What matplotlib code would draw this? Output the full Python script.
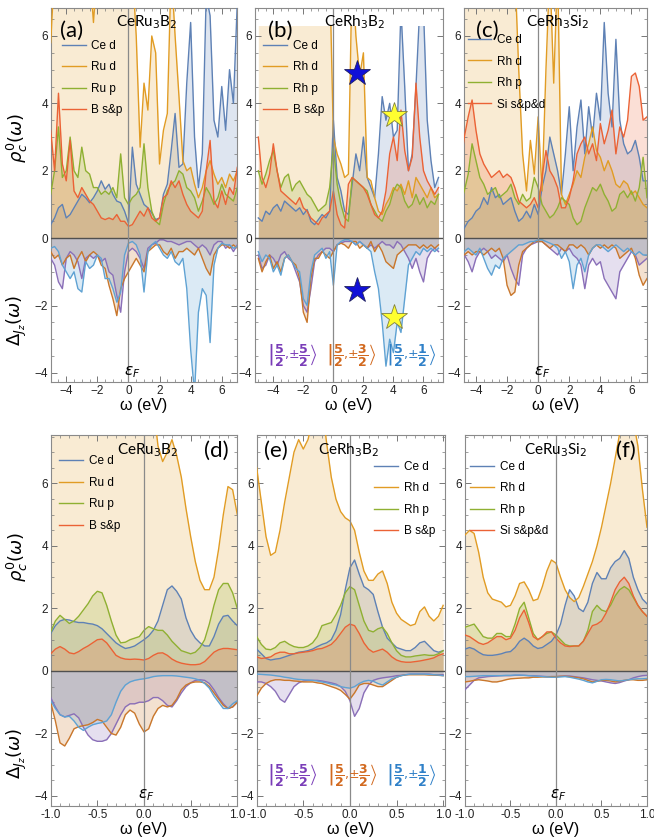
import numpy as np
import matplotlib
matplotlib.use('Agg')
import matplotlib.pyplot as plt
from matplotlib.patches import Rectangle
from matplotlib.ticker import MultipleLocator, FormatStrFormatter

plt.rcParams['font.family'] = ['Liberation Sans', 'DejaVu Sans']
plt.rcParams['mathtext.fontset'] = 'dejavusans'

# ---------------- energy grids ----------------
w_top = np.linspace(-5, 7, 49)
w_bot = np.linspace(-1, 1, 41)

# ---------------- panel (a) CeRu3B2, wide range ----------------
a_ce_d = [0.4, 0.6, 0.9, 1.0, 0.6, 0.7, 0.9, 1.1, 1.3, 1.2, 1.05, 1.2,
          1.4, 1.7, 1.45, 1.6, 1.3, 1.1, 1.05, 0.8, 0.45, 2.7, 1.6, 1.3,
          1.0, 0.9, 0.75, 0.55, 0.6, 1.3, 1.6, 2.6, 3.7, 2.1, 2.2, 4.6,
          6.4, 3.0, 1.5, 2.5, 7.2, 6.6, 3.5, 3.0, 4.5, 3.2, 5.0, 4.0, 7.0]
a_tm_d = [5.8, 8, 8, 8, 8, 8, 8, 8, 8, 8, 8, 6.4,
          8, 8, 8, 8, 8, 8, 8, 8, 8, 8, 6.0, 2.7,
          4.6, 3.8, 6.0, 5.5, 2.2, 3.2, 3.7, 8, 6.0, 4.2, 2.3, 2.0,
          2.1, 1.6, 1.2, 1.5, 2.0, 2.3, 1.9, 1.6, 1.8, 1.5, 1.9, 1.7, 2.0]
a_tm_p = [1.3, 2.0, 3.3, 1.8, 2.0, 3.0, 2.0, 1.8, 2.7, 2.0, 1.9, 1.5,
          1.5, 1.3, 1.4, 1.3, 1.5, 1.2, 2.5, 1.2, 1.0, 1.2, 1.3, 1.5,
          2.8, 1.5, 0.8, 0.5, 0.4, 1.0, 1.4, 1.6, 1.7, 2.0, 1.9, 1.5,
          1.4, 1.2, 0.8, 1.1, 1.5, 1.3, 1.0, 1.2, 1.6, 1.3, 1.2, 1.1, 1.5]
a_x = [3.2, 2.0, 4.3, 2.2, 1.7, 2.9, 1.4, 1.2, 1.5, 1.3, 1.1, 1.0,
       0.8, 0.6, 0.55, 0.6, 0.55, 0.7, 0.5, 0.5, 0.35, 0.4, 0.6, 0.8,
       0.65, 0.9, 0.6, 0.5, 0.6, 1.2, 1.3, 1.7, 1.5, 1.7, 1.3, 1.0,
       0.8, 0.7, 0.6, 0.8, 2.0, 2.9, 1.1, 0.9, 1.4, 1.0, 1.5, 1.3, 2.1]
a_j52 = [-0.6, -0.8, -1.3, -1.5, -0.6, -0.4, -0.5, -0.7, -1.2, -0.6, -0.5, -0.6,
         -0.5, -0.7, -0.6, -1.0, -1.1, -1.7, -2.2, -1.0, -0.4, -0.3, -0.4, -0.6,
         -0.9, -0.3, -0.2, -0.15, -0.05, -0.05, -0.1, -0.1, -0.15, -0.2, -0.15, -0.1,
         -0.1, -0.2, -0.3, -0.2, -0.3, -0.5, -0.2, -0.1, -0.1, -0.3, -0.2, -0.4, -0.2]
a_j32 = [-0.4, -0.6, -0.5, -0.8, -0.6, -0.5, -0.9, -0.6, -0.4, -0.7, -0.5, -0.4,
         -0.5, -0.8, -0.9, -1.4, -1.8, -2.3, -1.5, -1.2, -1.0, -0.8, -0.6, -0.8,
         -1.0, -0.4, -0.3, -0.2, -0.2, -0.4, -0.5, -0.3, -0.6, -0.4, -0.4, -0.3,
         -0.4, -0.5, -0.3, -0.6, -0.9, -1.1, -0.5, -0.3, -0.2, -0.2, -0.3, -0.2, -0.3]
a_j12 = [-0.3, -0.25, -0.4, -0.8, -1.0, -1.2, -1.0, -1.5, -1.6, -0.7, -0.9, -0.8,
         -0.5, -0.6, -1.2, -1.2, -1.5, -1.9, -1.6, -0.5, -0.15, -0.1, -0.2, -0.5,
         -1.6, -0.4, -0.2, -0.1, -0.3, -0.5, -0.6, -0.4, -0.7, -0.8, -0.6, -1.5,
         -3.3, -4.6, -2.2, -1.5, -1.7, -3.1, -0.8, -0.3, -0.15, -0.2, -0.2, -0.3, -0.25]

# ---------------- panel (b) CeRh3B2, wide range ----------------
b_ce_d = [0.6, 0.5, 0.8, 0.7, 0.9, 1.0, 0.8, 1.1, 1.0, 0.9, 0.8, 0.9,
          0.7, 0.85, 0.5, 0.4, 0.55, 0.7, 0.6, 0.8, 3.5, 1.8, 1.4, 0.8,
          0.7, 1.6, 2.5, 2.0, 3.0, 1.8, 1.5, 1.2, 2.5, 4.2, 3.5, 4.0,
          3.0, 3.2, 6.8, 4.5, 2.0, 2.5, 4.5, 6.8, 6.8, 3.5, 2.3, 1.5, 1.8]
b_tm_d = [8, 8, 8, 8, 8, 8, 8, 8, 8, 8, 8, 8,
          8, 8, 8, 8, 8, 8, 8, 8, 3.0, 2.5, 2.2, 1.8,
          1.9, 8, 6.0, 4.8, 5.5, 1.8, 1.7, 1.2, 0.8, 0.7, 1.0, 1.2,
          1.5, 1.4, 1.6, 1.3, 1.7, 1.2, 1.8, 1.6, 1.4, 1.2, 1.5, 1.2, 1.3]
b_tm_p = [2.0, 1.6, 1.9, 2.3, 2.6, 2.0, 1.5, 1.8, 1.9, 1.4, 1.6, 1.7,
          1.5, 1.3, 1.2, 1.0, 0.8, 0.9, 1.0, 1.5, 2.7, 1.6, 1.0, 0.6,
          0.5, 1.8, 1.7, 1.6, 1.5, 1.4, 1.0, 0.8, 0.6, 0.5, 0.8, 1.0,
          1.4, 1.6, 1.5, 1.1, 0.9, 1.0, 1.3, 1.0, 1.2, 0.9, 1.1, 1.0, 1.3]
b_x = [3.0, 1.8, 1.5, 1.9, 2.8, 2.0, 1.4, 1.3, 1.2, 1.1, 1.0, 1.2,
       0.9, 0.8, 0.6, 0.5, 0.4, 0.6, 0.7, 0.8, 1.4, 0.7, 0.4, 0.3,
       1.6, 1.8, 1.7, 1.6, 1.5, 1.3, 1.0, 0.7, 0.6, 0.8, 1.4, 2.5,
       3.0, 2.3, 3.8, 2.6, 2.0, 2.4, 4.6, 3.0, 2.0, 1.7, 1.5, 1.3, 1.5]
b_j52 = [-0.5, -0.9, -0.8, -0.5, -0.6, -0.8, -0.5, -0.4, -0.6, -0.7, -1.0, -1.3,
         -2.0, -2.2, -1.5, -0.7, -0.5, -0.4, -0.3, -0.3, -0.4, -0.2, -0.15, -0.1,
         -0.1, -0.1, -0.2, -0.1, -0.2, -0.3, -0.2, -0.3, -0.2, -0.1, -0.2, -0.2,
         -0.3, -0.1, -0.2, -0.4, -0.6, -0.9, -0.6, -1.0, -1.3, -0.6, -0.4, -0.3, -0.4]
b_j32 = [-0.6, -1.0, -0.7, -0.5, -0.9, -0.7, -1.0, -0.6, -0.5, -0.7, -0.8, -1.2,
         -2.2, -2.5, -1.2, -0.6, -0.6, -0.4, -0.5, -0.6, -0.4, -0.2, -0.15, -0.2,
         -0.3, -0.1, -0.1, -0.3, -0.2, -0.3, -0.1, -0.4, -0.2, -0.4, -0.7, -0.8,
         -0.9, -0.5, -0.4, -0.3, -0.2, -0.2, -0.2, -0.3, -0.2, -0.3, -0.2, -0.3, -0.2]
b_j12 = [-0.4, -0.7, -0.5, -0.6, -1.0, -0.8, -1.1, -0.6, -0.5, -0.7, -0.9, -1.0,
         -1.8, -2.0, -1.0, -0.5, -0.4, -0.3, -0.6, -0.4, -1.4, -0.2, -0.1, -0.05,
         -0.05, -0.1, -0.2, -0.1, -0.2, -0.3, -0.4, -1.0, -1.5, -2.5, -3.8, -3.0,
         -3.4, -2.5, -2.8, -1.8, -0.8, -0.6, -0.4, -0.5, -0.3, -0.4, -0.3, -0.4, -0.3]

# ---------------- panel (c) CeRh3Si2, wide range ----------------
c_ce_d = [0.1, 0.3, 0.5, 0.6, 0.8, 0.9, 1.2, 1.0, 1.5, 1.2, 1.3, 1.0,
          1.1, 1.2, 0.8, 0.5, 0.6, 0.8, 0.6, 1.0, 0.7, 1.5, 2.0, 3.0,
          2.5, 2.0, 1.3, 2.5, 3.9, 2.0, 3.3, 4.1, 2.5, 3.9, 3.0, 4.3,
          3.5, 6.4, 4.3, 3.3, 5.9, 3.5, 2.8, 2.5, 2.6, 2.9, 2.4, 1.7, 1.7]
c_tm_d = [8, 8, 8, 8, 8, 8, 8, 8, 8, 8, 8, 8,
          8, 8, 8, 5.0, 2.5, 1.4, 2.9, 1.9, 3.6, 1.4, 5.0, 8,
          4.6, 8, 1.3, 1.0, 1.3, 1.6, 2.0, 1.8, 2.4, 2.8, 3.3, 2.6,
          2.4, 2.0, 2.3, 2.0, 1.6, 1.5, 1.7, 1.6, 1.3, 1.4, 1.2, 1.0, 0.9]
c_tm_p = [1.0, 1.4, 1.9, 2.8, 2.3, 1.8, 1.6, 1.3, 1.4, 1.5, 1.2, 1.3,
          1.4, 1.6, 1.2, 1.0, 1.3, 1.1, 1.2, 1.8, 1.5, 1.0, 0.8, 0.6,
          0.7, 0.9, 1.2, 1.1, 1.0, 0.6, 0.4, 0.5, 0.9, 1.2, 1.5, 1.4,
          1.6, 1.3, 1.1, 0.8, 0.9, 1.3, 1.4, 1.2, 1.4, 1.1, 1.5, 2.4, 1.2]
c_x = [2.1, 3.0, 3.6, 4.1, 3.2, 2.5, 2.2, 2.0, 1.8, 1.9, 2.0, 1.8,
       1.9, 1.8, 1.5, 1.1, 1.0, 0.9, 1.0, 1.2, 0.9, 1.8, 2.6, 2.0,
       1.8, 1.5, 0.9, 0.9, 1.2, 1.7, 2.5, 2.8, 3.0, 2.5, 2.8, 2.3,
       3.4, 2.8, 3.2, 3.8, 2.5, 3.3, 3.0, 3.5, 4.8, 4.9, 4.5, 3.5, 3.6]
c_j52 = [-0.3, -0.5, -0.7, -1.0, -0.6, -0.4, -0.3, -0.4, -0.6, -0.5, -0.6, -0.7,
         -0.5, -0.9, -1.2, -1.4, -0.5, -0.3, -0.2, -0.15, -0.1, -0.1, -0.2, -0.3,
         -0.4, -0.5, -0.3, -0.4, -0.3, -0.5, -0.6, -0.8, -1.5, -0.8, -0.6, -0.8,
         -0.7, -1.2, -1.4, -1.6, -1.8, -1.0, -0.8, -0.6, -0.4, -0.5, -0.8, -0.7, -0.6]
c_j32 = [-0.4, -0.5, -0.4, -0.5, -0.4, -0.4, -0.5, -0.4, -0.3, -0.4, -0.3, -0.6,
         -1.4, -1.7, -1.6, -0.8, -0.4, -0.3, -0.2, -0.1, -0.1, -0.1, -0.2, -0.3,
         -0.2, -0.2, -0.3, -0.4, -0.2, -0.2, -0.3, -0.2, -0.3, -0.5, -0.3, -0.2,
         -0.3, -0.2, -0.3, -0.2, -0.3, -0.6, -0.5, -0.4, -0.3, -0.6, -1.1, -1.4, -1.2]
c_j12 = [-0.3, -0.4, -0.3, -0.4, -0.5, -0.3, -0.6, -0.9, -1.1, -0.8, -0.9, -0.6,
         -0.5, -0.4, -0.3, -0.2, -0.2, -0.15, -0.1, -0.1, -0.05, -0.05, -0.1, -0.15,
         -0.2, -0.3, -0.6, -0.4, -0.7, -1.5, -0.8, -0.6, -1.0, -0.5, -0.3, -0.2,
         -0.2, -0.3, -0.4, -0.3, -0.2, -0.3, -0.4, -0.3, -0.4, -0.5, -0.4, -0.5, -0.5]

# ---------------- panel (d) CeRu3B2, zoom ----------------
d_ce_d = [1.2, 1.45, 1.6, 1.65, 1.63, 1.58, 1.55, 1.55, 1.52, 1.5,
          1.45, 1.35, 1.2, 1.05, 0.9, 0.8, 0.72, 0.75, 0.8, 0.9,
          1.0, 1.12, 1.3, 1.6, 2.1, 2.6, 2.72, 2.55, 2.3, 1.7,
          1.3, 1.05, 0.9, 0.8, 0.8, 1.1, 1.5, 1.75, 1.78, 1.6, 1.45]
d_tm_d = [9, 9, 9, 9, 9, 9, 9, 9, 9, 9,
          9, 9, 9, 9, 9, 9, 9, 9, 9, 9,
          9, 9, 8.5, 7.2, 6.7, 7.0, 7.4, 6.9, 6.2, 5.2,
          4.3, 3.5, 2.9, 2.6, 2.6, 3.0, 3.9, 5.0, 5.9, 5.8, 5.0]
d_tm_p = [1.25, 1.6, 1.78, 1.65, 1.52, 1.6, 1.75, 1.95, 2.15, 2.4,
          2.55, 2.5, 2.1, 1.6, 1.15, 0.9, 0.92, 1.0, 1.05, 1.1,
          1.3, 1.42, 1.35, 1.3, 1.3, 1.15, 0.95, 0.8, 0.65, 0.6,
          0.55, 0.6, 0.75, 1.0, 1.5, 2.1, 2.6, 2.8, 2.8, 2.5, 2.0]
d_x = [0.55, 0.7, 0.78, 0.7, 0.58, 0.55, 0.62, 0.72, 0.8, 0.9,
       1.0, 1.02, 0.9, 0.7, 0.5, 0.42, 0.38, 0.37, 0.38, 0.37,
       0.35, 0.4, 0.5, 0.57, 0.58, 0.5, 0.38, 0.3, 0.25, 0.22,
       0.2, 0.2, 0.22, 0.3, 0.45, 0.6, 0.68, 0.72, 0.72, 0.7, 0.68]
d_j52 = [-0.85, -1.15, -1.4, -1.47, -1.42, -1.37, -1.5, -1.8, -2.05, -2.2,
         -2.25, -2.25, -2.2, -2.0, -1.7, -1.4, -1.15, -1.05, -1.05, -1.0,
         -1.0, -0.95, -0.85, -0.85, -0.95, -1.1, -1.15, -0.95, -0.7, -0.5,
         -0.38, -0.3, -0.28, -0.3, -0.4, -0.6, -0.85, -1.05, -1.2, -1.15, -1.0]
d_j32 = [-1.0, -1.6, -2.3, -2.4, -2.15, -1.85, -1.78, -1.75, -1.72, -1.65,
         -1.55, -1.6, -1.8, -2.0, -2.05, -1.8, -1.4, -1.25, -1.35, -1.7,
         -1.95, -1.85, -1.45, -1.2, -1.1, -1.15, -1.1, -0.9, -0.6, -0.45,
         -0.38, -0.35, -0.35, -0.38, -0.5, -0.7, -0.9, -1.1, -1.2, -1.15, -1.0]
d_j12 = [-0.95, -1.2, -1.4, -1.47, -1.45, -1.6, -1.8, -1.9, -1.8, -1.72,
         -1.68, -1.65, -1.6, -1.4, -1.0, -0.65, -0.45, -0.35, -0.3, -0.27,
         -0.25, -0.22, -0.18, -0.16, -0.15, -0.15, -0.15, -0.16, -0.18, -0.2,
         -0.22, -0.25, -0.3, -0.4, -0.55, -0.8, -1.0, -1.2, -1.2, -1.05, -0.95]

# ---------------- panel (e) CeRh3B2, zoom ----------------
e_ce_d = [0.7, 0.55, 0.4, 0.35, 0.38, 0.4, 0.45, 0.5, 0.55, 0.6,
          0.62, 0.65, 0.7, 0.78, 0.85, 0.9, 1.0, 1.3, 1.8, 2.6,
          3.3, 3.55, 3.1, 2.7, 2.6, 2.45, 1.9, 1.4, 1.05, 0.9,
          0.75, 0.7, 0.65, 0.65, 0.75, 0.9, 0.95, 0.8, 0.65, 0.6, 0.65]
e_tm_d = [6.5, 5.4, 4.3, 3.7, 3.8, 4.5, 5.4, 6.2, 7.0, 7.4,
          7.1, 7.4, 8.0, 8.5, 8.5, 7.3, 6.2, 5.5, 5.1, 4.9,
          4.8, 4.5, 3.8, 3.2, 2.9, 2.9, 3.1, 3.2, 2.8, 2.2,
          1.85, 1.65, 1.55, 1.45, 1.5, 1.9, 2.05, 1.75, 1.6, 1.75, 2.1]
e_tm_p = [1.1, 0.85, 0.7, 0.68, 0.75, 0.9, 0.95, 0.85, 0.78, 0.75,
          0.75, 0.8, 0.9, 1.1, 1.45, 1.5, 1.55, 1.8, 2.1, 2.5,
          2.7, 2.6, 2.1, 1.6, 1.3, 1.25, 1.35, 1.4, 1.2, 0.9,
          0.65, 0.5, 0.45, 0.45, 0.48, 0.5, 0.52, 0.5, 0.5, 0.55, 0.65]
e_x = [0.45, 0.4, 0.42, 0.45, 0.55, 0.6, 0.6, 0.55, 0.55, 0.58,
       0.6, 0.62, 0.65, 0.7, 0.72, 0.78, 0.85, 1.0, 1.2, 1.4,
       1.5, 1.45, 1.2, 0.9, 0.7, 0.6, 0.65, 0.7, 0.6, 0.45,
       0.35, 0.3, 0.28, 0.28, 0.3, 0.32, 0.35, 0.38, 0.42, 0.5, 0.55]
e_j52 = [-0.35, -0.35, -0.4, -0.5, -0.65, -0.9, -1.0, -0.75, -0.5, -0.38,
         -0.32, -0.3, -0.3, -0.3, -0.32, -0.35, -0.38, -0.42, -0.5, -0.65,
         -0.95, -1.45, -1.2, -0.7, -0.45, -0.3, -0.25, -0.22, -0.2, -0.18,
         -0.15, -0.14, -0.12, -0.1, -0.1, -0.1, -0.1, -0.1, -0.12, -0.12, -0.12]
e_j32 = [-0.8, -0.55, -0.4, -0.32, -0.28, -0.28, -0.3, -0.3, -0.32, -0.33,
         -0.35, -0.35, -0.35, -0.38, -0.4, -0.45, -0.5, -0.55, -0.62, -0.75,
         -0.9, -0.7, -0.45, -0.4, -0.4, -0.45, -0.5, -0.5, -0.4, -0.3,
         -0.2, -0.15, -0.12, -0.12, -0.12, -0.12, -0.12, -0.13, -0.13, -0.14, -0.15]
e_j12 = [-0.1, -0.11, -0.12, -0.13, -0.15, -0.17, -0.2, -0.22, -0.25, -0.27,
         -0.28, -0.29, -0.3, -0.32, -0.35, -0.38, -0.42, -0.45, -0.5, -0.53,
         -0.55, -0.5, -0.4, -0.33, -0.3, -0.33, -0.4, -0.45, -0.35, -0.25,
         -0.2, -0.15, -0.12, -0.1, -0.1, -0.1, -0.1, -0.11, -0.12, -0.13, -0.15]

# ---------------- panel (f) CeRu3Si2, zoom ----------------
f_ce_d = [0.7, 0.75, 0.7, 0.6, 0.52, 0.5, 0.5, 0.52, 0.55, 0.6,
          0.62, 0.75, 0.95, 1.05, 0.95, 0.8, 0.72, 0.75, 0.85, 0.95,
          1.15, 1.5, 2.1, 2.6, 2.4, 2.0, 1.9, 2.2, 2.8, 3.15,
          2.95, 2.95, 3.3, 3.5, 3.6, 3.85, 3.6, 3.0, 2.6, 2.3, 2.15]
f_tm_d = [4.35, 4.5, 4.4, 3.8, 3.0, 2.5, 2.3, 2.25, 2.2, 2.05,
          2.1, 2.4, 2.8, 2.85, 2.6, 2.25, 2.3, 2.7, 3.2, 3.55,
          3.45, 3.0, 2.6, 2.35, 2.22, 2.35, 2.7, 3.1, 3.5, 4.0,
          4.6, 5.3, 6.0, 6.8, 7.6, 8.2, 8.5, 8.0, 7.2, 5.8, 4.6]
f_tm_p = [1.4, 1.45, 1.5, 1.3, 1.1, 1.05, 1.05, 1.2, 1.2, 1.1,
          1.1, 1.5, 2.0, 2.2, 1.7, 1.2, 1.0, 1.1, 1.2, 1.25,
          1.15, 1.0, 0.85, 0.8, 0.8, 0.8, 0.95, 1.3, 1.9, 2.1,
          1.95, 1.9, 2.1, 2.4, 2.6, 2.7, 2.6, 2.35, 2.1, 1.9, 1.75]
f_x = [1.15, 1.1, 1.0, 0.9, 0.85, 0.9, 1.0, 1.1, 1.1, 1.0,
       1.05, 1.3, 1.7, 1.95, 1.55, 1.1, 1.0, 1.1, 1.25, 1.25,
       1.05, 0.9, 0.8, 0.78, 0.8, 0.8, 0.95, 1.2, 1.45, 1.5,
       1.6, 1.85, 2.2, 2.6, 2.85, 3.0, 2.8, 2.4, 2.1, 1.9, 1.75]
f_j52 = [-0.6, -0.45, -0.3, -0.22, -0.2, -0.18, -0.17, -0.16, -0.15, -0.15,
         -0.15, -0.14, -0.14, -0.14, -0.15, -0.15, -0.16, -0.17, -0.18, -0.18,
         -0.18, -0.17, -0.16, -0.16, -0.18, -0.2, -0.22, -0.25, -0.28, -0.3,
         -0.32, -0.35, -0.38, -0.4, -0.37, -0.32, -0.28, -0.22, -0.18, -0.15, -0.14]
f_j32 = [-0.35, -0.33, -0.3, -0.28, -0.3, -0.32, -0.35, -0.35, -0.32, -0.28,
         -0.25, -0.24, -0.23, -0.22, -0.22, -0.2, -0.2, -0.19, -0.19, -0.18,
         -0.18, -0.17, -0.17, -0.18, -0.2, -0.22, -0.25, -0.3, -0.35, -0.33,
         -0.3, -0.3, -0.32, -0.35, -0.33, -0.3, -0.28, -0.28, -0.3, -0.3, -0.28]
f_j12 = [-0.18, -0.18, -0.17, -0.16, -0.15, -0.15, -0.15, -0.15, -0.15, -0.14,
         -0.14, -0.13, -0.13, -0.14, -0.15, -0.16, -0.17, -0.18, -0.19, -0.2,
         -0.2, -0.19, -0.18, -0.2, -0.23, -0.26, -0.3, -0.35, -0.38, -0.33,
         -0.28, -0.27, -0.28, -0.3, -0.32, -0.3, -0.28, -0.26, -0.25, -0.25, -0.24]

# ---------------- labels ----------------
titles = [r'CeRu$_3$B$_2$', r'CeRh$_3$B$_2$', r'CeRh$_3$Si$_2$',
          r'CeRu$_3$B$_2$', r'CeRh$_3$B$_2$', r'CeRu$_3$Si$_2$']
panel_tags = ['(a)', '(b)', '(c)', '(d)', '(e)', '(f)']
legend_labels = [['Ce d', 'Ru d', 'Ru p', 'B s&p'],
                 ['Ce d', 'Rh d', 'Rh p', 'B s&p'],
                 ['Ce d', 'Rh d', 'Rh p', 'Si s&p&d'],
                 ['Ce d', 'Ru d', 'Ru p', 'B s&p'],
                 ['Ce d', 'Rh d', 'Rh p', 'B s&p'],
                 ['Ce d', 'Rh d', 'Rh p', 'Si s&p&d']]
ket_labels = [r'$\left|\dfrac{\mathbf{5}}{\mathbf{2}}{,}{\pm}\dfrac{\mathbf{5}}{\mathbf{2}}\right\rangle$',
              r'$\left|\dfrac{\mathbf{5}}{\mathbf{2}}{,}{\pm}\dfrac{\mathbf{3}}{\mathbf{2}}\right\rangle$',
              r'$\left|\dfrac{\mathbf{5}}{\mathbf{2}}{,}{\pm}\dfrac{\mathbf{1}}{\mathbf{2}}\right\rangle$']
show_ef = [True, False, True, True, False, True]

# stars in panel (b)
star_blue_w = [1.55, 1.55]
star_blue_v = [4.9, -1.55]
star_yel_w = [4.07, 4.07]
star_yel_v = [3.65, -2.33]

# ---------------- style ----------------
RHO_COLORS = ['#5E81B5', '#E19C24', '#8FB032', '#EB6235']
DEL_COLORS = ['#8A6FB8', '#C9772C', '#5FA2D3']
KET_COLORS = ['#7A3DB8', '#D2691E', '#2F80C8']

W, H = 654, 840
fig = plt.figure(figsize=(W / 100, H / 100), dpi=100)


def px_axes(x0, x1, y0, y1):
    return fig.add_axes([x0 / W, 1 - y1 / H, (x1 - x0) / W, (y1 - y0) / H])


top_y = (8, 382)
bot_y = (435, 806)
ax_a = px_axes(50.7, 237.3, *top_y)
ax_b = px_axes(255, 443, *top_y)
ax_c = px_axes(464, 647, *top_y)
ax_d = px_axes(50.7, 237.3, *bot_y)
ax_e = px_axes(256.7, 445, *bot_y)
ax_f = px_axes(465, 647, *bot_y)

panels = [
    (ax_a, w_top, [a_ce_d, a_tm_d, a_tm_p, a_x], [a_j52, a_j32, a_j12], (-5, 7), (-4.27, 6.83), None),
    (ax_b, w_top, [b_ce_d, b_tm_d, b_tm_p, b_x], [b_j52, b_j32, b_j12], (-5.22, 7.3), (-4.27, 6.83), 6.3),
    (ax_c, w_top, [c_ce_d, c_tm_d, c_tm_p, c_x], [c_j52, c_j32, c_j12], (-4.77, 7), (-4.27, 6.83), None),
    (ax_d, w_bot, [d_ce_d, d_tm_d, d_tm_p, d_x], [d_j52, d_j32, d_j12], (-1, 1), (-4.32, 7.55), None),
    (ax_e, w_bot, [e_ce_d, e_tm_d, e_tm_p, e_x], [e_j52, e_j32, e_j12], (-1, 1.02), (-4.32, 7.55), None),
    (ax_f, w_bot, [f_ce_d, f_tm_d, f_tm_p, f_x], [f_j52, f_j32, f_j12], (-1, 1), (-4.32, 7.55), None),
]

# positions (axes fractions) of titles, tags, legends
title_pos = [(0.516, 0.962), (0.53, 0.962), (0.51, 0.962), (0.52, 0.96), (0.49, 0.96), (0.50, 0.96)]
tag_pos = [(0.11, 0.94), (0.133, 0.94), (0.127, 0.94), (0.89, 0.957), (0.10, 0.957), (0.885, 0.957)]
leg_pos = [(0.06, 0.915), (0.045, 0.915), (0.02, 0.93), (0.045, 0.945), (0.625, 0.93), (0.03, 0.93)]

for i, (ax, w, rhos, dels, xl, yl, cap) in enumerate(panels):
    ax.set_xlim(*xl)
    ax.set_ylim(*yl)
    clip = None
    if cap is not None:
        clip = Rectangle((xl[0], yl[0]), xl[1] - xl[0], cap - yl[0], transform=ax.transData)
    # Delta_Jz curves
    for y, c in zip(dels, DEL_COLORS):
        ax.fill_between(w, 0, y, color=c, alpha=0.22, lw=0, zorder=1)
        ax.plot(w, y, color=c, lw=1.0, zorder=3)
    # rho curves
    handles = []
    for y, c, lab in zip(rhos, RHO_COLORS, legend_labels[i]):
        pc = ax.fill_between(w, 0, y, color=c, alpha=0.2, lw=0, zorder=1)
        ln, = ax.plot(w, y, color=c, lw=1.0, zorder=3, label=lab)
        if clip is not None:
            pc.set_clip_path(clip)
            ln.set_clip_path(clip)
        handles.append(ln)
    ax.axhline(0, color='#505050', lw=1.0, zorder=4)
    ax.axvline(0, color='#8a8a8a', lw=0.9, zorder=4)

    # ticks
    if w is w_top:
        ax.xaxis.set_major_locator(MultipleLocator(2))
        ax.xaxis.set_minor_locator(MultipleLocator(0.5))
    else:
        ax.xaxis.set_major_locator(MultipleLocator(0.5))
        ax.xaxis.set_minor_locator(MultipleLocator(0.1))
        ax.xaxis.set_major_formatter(FormatStrFormatter('%.1f'))
    ax.yaxis.set_major_locator(MultipleLocator(2))
    ax.yaxis.set_minor_locator(MultipleLocator(0.5))
    ax.tick_params(which='both', direction='in', top=True, right=True,
                   color='#777777', labelsize=8.5, labelcolor='#222222', pad=2)
    ax.tick_params(which='major', length=4, width=0.7)
    ax.tick_params(which='minor', length=2, width=0.5)
    for s in ax.spines.values():
        s.set_color('#8a8a8a')
        s.set_linewidth(0.8)

    ax.set_xlabel('ω (eV)', fontsize=11.5, labelpad=1)

    ax.text(*title_pos[i], titles[i], transform=ax.transAxes, ha='center', va='center',
            fontsize=11, family=['Lato', 'DejaVu Sans'], zorder=6)
    ax.text(*tag_pos[i], panel_tags[i], transform=ax.transAxes, ha='center', va='center',
            fontsize=16, family=['Lato', 'DejaVu Sans'], zorder=6)
    leg = ax.legend(handles=handles, loc='upper left', bbox_to_anchor=leg_pos[i],
                    frameon=False, fontsize=8.5, handlelength=2.0, handletextpad=0.5,
                    labelspacing=0.8, borderaxespad=0, borderpad=0)
    leg.set_zorder(7)

    if show_ef[i]:
        ef_x = 0.25 if w is w_top else 0.02
        ax.text(ef_x, -3.98, r'$\varepsilon_F$', ha='center', va='center', fontsize=11, zorder=6)

# kets in (b) and (e)
ket_w_b = [-2.75, 1.18, 5.2]
ket_w_e = [-0.62, 0.02, 0.66]
for lab, c, xb, xe in zip(ket_labels, KET_COLORS, ket_w_b, ket_w_e):
    ax_b.text(xb, -3.47, lab, color=c, ha='center', va='center', fontsize=9, zorder=6)
    ax_e.text(xe, -3.34, lab, color=c, ha='center', va='center', fontsize=9, zorder=6)

# stars in (b)
ax_b.plot(star_blue_w, star_blue_v, ls='none', marker='*', ms=19, color='#1010D8',
          mec='#202060', mew=0.6, zorder=8)
ax_b.plot(star_yel_w, star_yel_v, ls='none', marker='*', ms=19, color='#FFFF30',
          mec='#808040', mew=0.6, zorder=8)

# y-axis labels
for yc_rho, yc_del in [(138, 320), (557, 753)]:
    fig.text(17 / W, 1 - yc_rho / H, r'$\rho_c^0(\omega)$', rotation=90, ha='center', va='center', fontsize=13)
    fig.text(17 / W, 1 - yc_del / H, r'$\Delta_{J_z}(\omega)$', rotation=90, ha='center', va='center', fontsize=13)

fig.savefig('out.png', dpi=100)
